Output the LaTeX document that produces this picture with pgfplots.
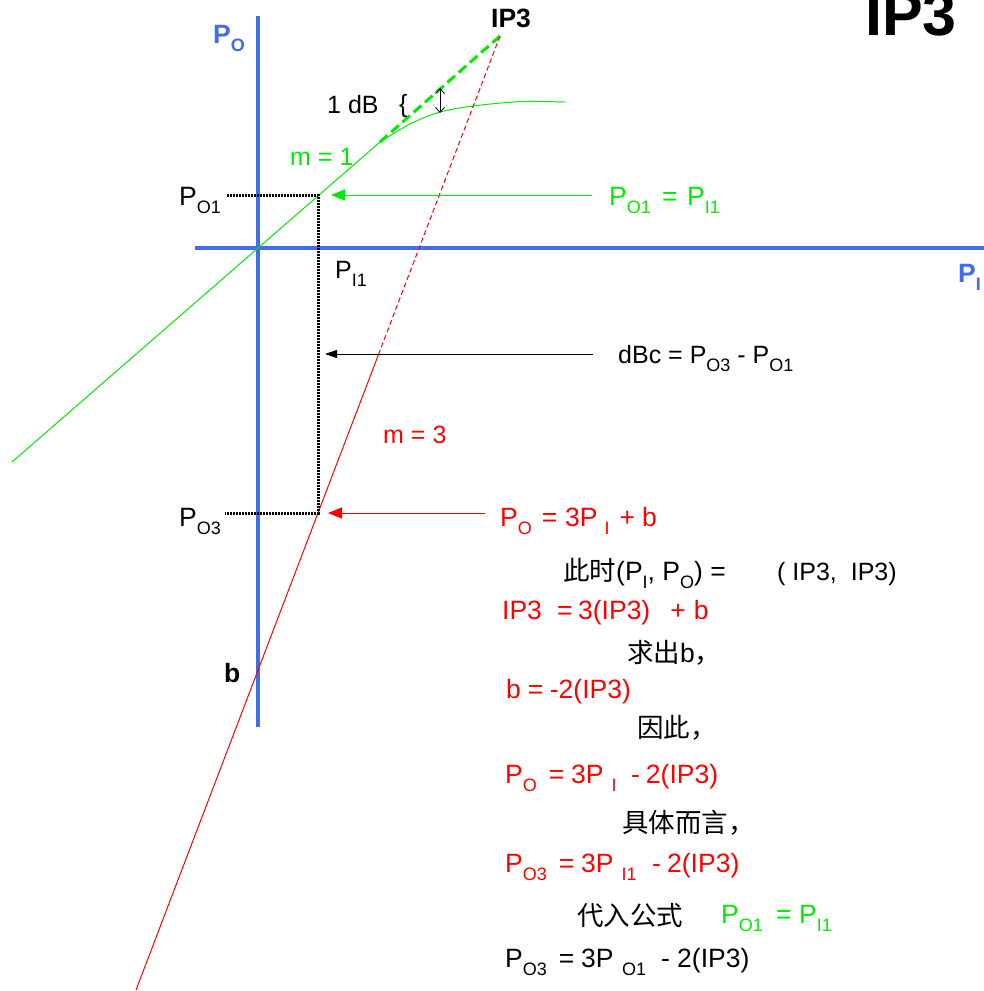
\documentclass[border=0pt]{standalone}
\usepackage{pgfplots}
\pgfplotsset{compat=1.18}
\usepackage{fontspec}
\setmainfont{Liberation Sans}
\newfontfamily\cjk{Noto Sans CJK SC}
\usetikzlibrary{arrows.meta}
\definecolor{ablue}{RGB}{65,110,230}
\definecolor{lgreen}{RGB}{0,235,0}
\definecolor{rred}{RGB}{255,0,0}
\newcommand\ft{\fontsize{26.5}{30}\selectfont}
\newcommand\fts{\fontsize{25}{30}\selectfont}
\newcommand\sub[1]{\raisebox{-8pt}{\fontsize{18}{18}\selectfont #1}}
\newcommand\h[1]{\hspace*{#1pt}}
\begin{document}
\begin{tikzpicture}[every node/.style={inner sep=0pt, font=\ft}]
\begin{axis}[name=ax, at={(0,0)}, anchor=south west,
  width=984pt, height=991pt, scale only axis,
  xmin=0, xmax=984, ymin=0, ymax=991, y dir=reverse,
  hide axis, clip=false, no markers]
% blue axes
\addplot[ablue, line width=4pt] coordinates {(258,16) (258,727)};
\addplot[ablue, line width=4pt] coordinates {(195,248) (984,248)};
% green linear response
\addplot[lgreen, line width=1pt] coordinates {(12,462) (258,248) (380,142)};
\addplot[lgreen, line width=1pt, smooth] coordinates {(380,142) (410,124) (440,112) (473,106) (513,102) (540,101.5) (565,102)};
\addplot[lgreen, line width=3pt, dash pattern=on 10pt off 5pt] coordinates {(380,142) (500,36)};
% red third-order line
\addplot[rred, line width=1pt, dash pattern=on 5pt off 3pt] coordinates {(500,36) (380.2,350)};
\addplot[rred, line width=1pt] coordinates {(380.2,350) (318,513) (136,990)};
% dotted guides
\addplot[black, line width=3pt, dash pattern=on 1.6pt off 1.4pt] coordinates {(227,195) (318,195) (318,513) (225,513)};
% arrows
\addplot[lgreen, line width=1pt, -{Triangle[length=14pt,width=11pt]}] coordinates {(592,195) (331,195)};
\addplot[black, line width=1pt, -{Triangle[length=12pt,width=8pt]}] coordinates {(593,354) (325,354)};
\addplot[rred, line width=1pt, -{Triangle[length=14pt,width=11pt]}] coordinates {(485,513) (328,513)};
\addplot[black, line width=0.8pt, {Straight Barb[length=5pt,width=9pt]}-{Straight Barb[length=5pt,width=9pt]}] coordinates {(440,88) (440,113)};
% texts
\node[anchor=base west, text=ablue, font=\ft\bfseries] at (axis cs:213,43) {P\sub{\bfseries O}};
\node[anchor=base west, font=\fontsize{61}{61}\selectfont\bfseries] at (axis cs:865,35) {IP3};
\node[anchor=base west, font=\fontsize{26.5}{30}\selectfont\bfseries] at (axis cs:491,27) {IP3};
\node[anchor=base west, font=\fts] at (axis cs:327,113) {1 dB};
\node[anchor=base west, font=\fts] at (axis cs:399,112) {\{};
\node[anchor=base west, text=lgreen, font=\fts] at (axis cs:290,165) {m = 1};
\node[anchor=base west] at (axis cs:179,205) {P\sub{O1}};
\node[anchor=base west, text=lgreen] at (axis cs:609,205) {P\sub{O1}\h{11.3}=\h{9.5}P\sub{I1}};
\node[anchor=base west, font=\fts] at (axis cs:335,278) {P\sub{I1}};
\node[anchor=base west, text=ablue, font=\ft\bfseries] at (axis cs:958,282) {P\sub{\bfseries I}};
\node[anchor=base west, font=\fts] at (axis cs:618,363) {dBc = P\sub{O3} - P\sub{O1}};
\node[anchor=base west, text=rred, font=\fts] at (axis cs:383,443) {m = 3};
\node[anchor=base west] at (axis cs:179,526) {P\sub{O3}};
\node[anchor=base west, font=\ft\bfseries] at (axis cs:224,682) {b};
\node[anchor=base west, text=rred] at (axis cs:500,526) {P\sub{O}\h{10}=\h{7.8}3P\h{7}\sub{I}\h{10}+\h{7}b};
\node[anchor=base west] at (axis cs:563,580) {{\cjk 此时}(P\sub{I}, P\sub{O}) =};
\node[anchor=base west, font=\fts] at (axis cs:777,580) {( IP3,\ \ IP3)};
\node[anchor=base west, text=rred] at (axis cs:502,619) {IP3\h{15.2}=\h{5.5}3(IP3)\h{20}+\h{8}b};
\node[anchor=base west] at (axis cs:627,662) {{\cjk 求出}b{\cjk ，}};
\node[anchor=base west, text=rred] at (axis cs:506,698) {b\h{7}=\h{6.5}-2(IP3)};
\node[anchor=base west] at (axis cs:637,737) {{\cjk 因此，}};
\node[anchor=base west, text=rred] at (axis cs:505,783) {P\sub{O}\h{12}=\h{6.8}3P\h{8}\sub{I}\h{14.6}-\h{6}2(IP3)};
\node[anchor=base west] at (axis cs:622,832) {{\cjk 具体而言，}};
\node[anchor=base west, text=rred] at (axis cs:505,872) {P\sub{O3}\h{12}=\h{6.8}3P\h{8}\sub{I1}\h{15.6}-\h{6.2}2(IP3)};
\node[anchor=base west] at (axis cs:577,925) {{\cjk 代入公式}};
\node[anchor=base west, text=lgreen] at (axis cs:721,923) {P\sub{O1}\h{13.3}=\h{7.5}P\sub{I1}};
\node[anchor=base west] at (axis cs:505,967) {P\sub{O3}\h{12}=\h{6.8}3P\h{8.6}\sub{O1}\h{15}-\h{7.2}2(IP3)};
\end{axis}
\pgfresetboundingbox
\useasboundingbox (ax.south west) rectangle (ax.north east);
\end{tikzpicture}
\end{document}
